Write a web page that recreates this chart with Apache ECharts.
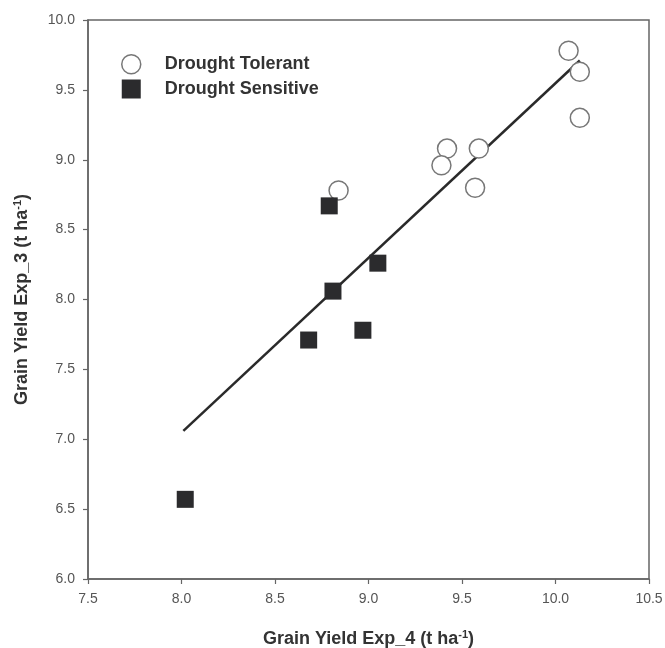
<!DOCTYPE html>
<html><head><meta charset="utf-8">
<script src="https://cdn.jsdelivr.net/npm/echarts@6/dist/echarts.min.js"></script>
<style>html,body{margin:0;padding:0;background:#fff}#c{width:665px;height:648px}</style>
</head><body><div id="c"></div>
<script>
const tolerantX = [10.07, 10.13, 10.13, 9.42, 9.39, 9.59, 9.57, 8.84];
const tolerantY = [9.78, 9.63, 9.30, 9.08, 8.96, 9.08, 8.80, 8.78];
const sensitiveX = [8.79, 8.81, 9.05, 8.68, 8.97, 8.02];
const sensitiveY = [8.67, 8.06, 8.26, 7.71, 7.78, 6.57];
const fitX = [8.01, 10.13];
const fitY = [7.06, 9.71];
const seriesNames = ['Drought Tolerant', 'Drought Sensitive'];
const xTitle = 'Grain Yield Exp_4 (t ha';
const yTitle = 'Grain Yield Exp_3 (t ha';

const chart = echarts.init(document.getElementById('c'));
const zip = (a, b) => a.map((v, i) => [v, b[i]]);
const axisCommon = {
  type: 'value', interval: 0.5,
  axisLine: {show: true, lineStyle: {color: '#666', width: 1.5}},
  axisTick: {show: true, length: 5, lineStyle: {color: '#666', width: 1.2}},
  axisLabel: {color: '#555', fontSize: 14, margin: 13, fontFamily: 'Liberation Sans', formatter: v => v.toFixed(1)},
  splitLine: {show: false},
  nameLocation: 'middle',
  nameTextStyle: {
    rich: {
      a: {fontSize: 18, fontWeight: 'bold', color: '#333', fontFamily: 'Liberation Sans'},
      s: {fontSize: 11, fontWeight: 'bold', color: '#333', fontFamily: 'Liberation Sans', verticalAlign: 'top', padding: [0, 0, 9, 0]}
    }
  }
};
chart.setOption({
  animation: false,
  backgroundColor: '#fff',
  grid: {left: 88, right: 16, top: 20, bottom: 69, show: true, borderColor: '#666', borderWidth: 1.5,
         containLabel: false, outerBoundsMode: 'none'},
  legend: {
    orient: 'vertical', left: 116, top: 49, itemGap: 5, itemWidth: 19, itemHeight: 19,
    textStyle: {fontSize: 18, fontWeight: 'bold', color: '#333', fontFamily: 'Liberation Sans', padding: [0, 0, 0, 19]},
    data: [
      {name: seriesNames[0], icon: 'circle', itemStyle: {color: '#fff', borderColor: '#777', borderWidth: 1.5}},
      {name: seriesNames[1], icon: 'rect', itemStyle: {color: '#2b2b2d'}}
    ]
  },
  xAxis: Object.assign({}, axisCommon, {min: 7.5, max: 10.5, name: '{a|' + xTitle + '}{s|-1}{a|)}', nameGap: 50}),
  yAxis: Object.assign({}, axisCommon, {min: 6.0, max: 10.0, name: '{a|' + yTitle + '}{s|-1}{a|)}', nameGap: 56}),
  series: [
    {name: 'fit', type: 'line', data: zip(fitX, fitY), symbol: 'none', silent: true,
     lineStyle: {color: '#2a2a2a', width: 2.5}, z: 1},
    {name: seriesNames[0], type: 'scatter', data: zip(tolerantX, tolerantY), symbol: 'circle', symbolSize: 19,
     itemStyle: {color: '#fff', borderColor: '#777', borderWidth: 1.5, opacity: 1}, z: 3},
    {name: seriesNames[1], type: 'scatter', data: zip(sensitiveX, sensitiveY), symbol: 'rect', symbolSize: 17,
     itemStyle: {color: '#2b2b2d', opacity: 1}, z: 3}
  ]
});
</script></body></html>
